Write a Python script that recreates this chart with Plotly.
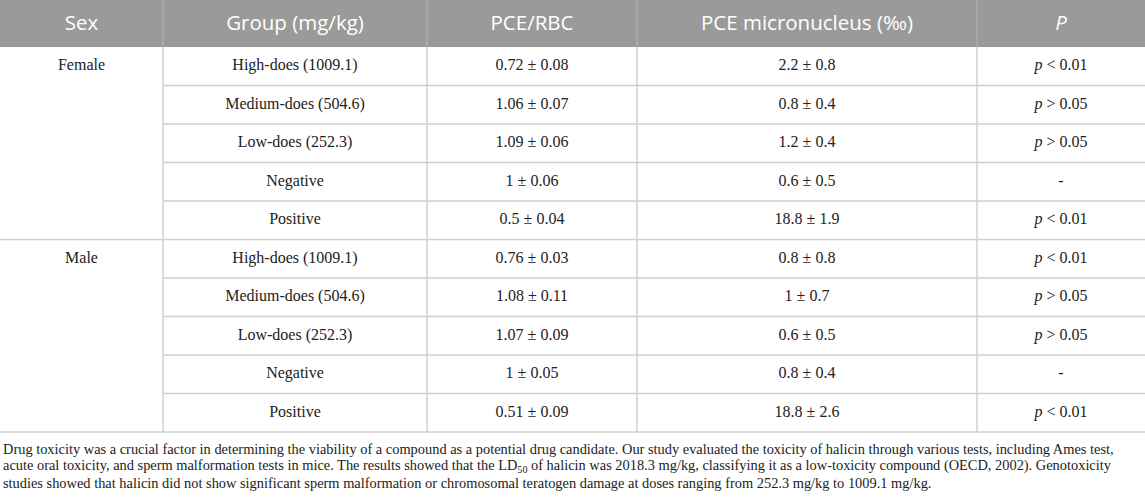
import plotly.graph_objects as go

# table content
sexes = ["Female", "Male"]
groups = ["High-does (1009.1)", "Medium-does (504.6)", "Low-does (252.3)", "Negative", "Positive"]
pce_rbc_mean = [0.72, 1.06, 1.09, 1, 0.5, 0.76, 1.08, 1.07, 1, 0.51]
pce_rbc_sd = [0.08, 0.07, 0.06, 0.06, 0.04, 0.03, 0.11, 0.09, 0.05, 0.09]
micronucleus_mean = [2.2, 0.8, 1.2, 0.6, 18.8, 0.8, 1, 0.6, 0.8, 18.8]
micronucleus_sd = [0.8, 0.4, 0.4, 0.5, 1.9, 0.8, 0.7, 0.5, 0.4, 2.6]
p_signs = ["<", ">", ">", None, "<", "<", ">", ">", None, "<"]
p_limits = [0.01, 0.05, 0.05, None, 0.01, 0.01, 0.05, 0.05, None, 0.01]
headers = ["Sex", "Group (mg/kg)", "PCE/RBC", "PCE micronucleus (‰)", "<i>P</i>"]
caption_lines = [
    "Drug toxicity was a crucial factor in determining the viability of a compound as a potential drug candidate. "
    "Our study evaluated the toxicity of halicin through various tests, including Ames test,",
    "acute oral toxicity, and sperm malformation tests in mice. The results showed that the LD<sub>50</sub> of halicin "
    "was 2018.3 mg/kg, classifying it as a low-toxicity compound (OECD, 2002). Genotoxicity",
    "studies showed that halicin did not show significant sperm malformation or chromosomal teratogen "
    "damage at doses ranging from 252.3 mg/kg to 1009.1 mg/kg.",
]

# layout (pixel units on hidden axes)
W, H = 1145, 498
col_edges = [0, 163, 427, 637, 977, 1145]
header_h = 47
row_h = 38.5
caption_y0 = 449
caption_dy = 17

HEADER_BG = "#9a9a9a"
GRID = "#d0d0d0"
TEXT = "#222222"
SERIF = "Liberation Serif"
SANS = "Open Sans"

n_rows = len(pce_rbc_mean)
per_sex = len(groups)
col_mid = [(a + b) / 2 for a, b in zip(col_edges[:-1], col_edges[1:])]
row_mid = [header_h + row_h * (i + 0.5) for i in range(n_rows)]
body_bottom = header_h + row_h * n_rows


def fmt(m, s):
    return f"{m:g} ± {s:g}"


def fmt_p(sign, lim):
    if sign is None:
        return "-"
    return f"<i>p</i> {sign} {lim:g}"


body_font = dict(family=SERIF, size=16, color=TEXT)

fig = go.Figure()

# sex labels sit on the first row of each block (merged cell look)
fig.add_trace(go.Scatter(
    x=[col_mid[0]] * len(sexes), y=[row_mid[k * per_sex] for k in range(len(sexes))],
    text=sexes, mode="text", textposition="middle center", textfont=body_font,
    hoverinfo="skip", showlegend=False,
))

columns = [
    [groups[i % per_sex] for i in range(n_rows)],
    [fmt(m, s) for m, s in zip(pce_rbc_mean, pce_rbc_sd)],
    [fmt(m, s) for m, s in zip(micronucleus_mean, micronucleus_sd)],
    [fmt_p(s, l) for s, l in zip(p_signs, p_limits)],
]
for x, texts in zip(col_mid[1:], columns):
    fig.add_trace(go.Scatter(
        x=[x] * n_rows, y=row_mid, text=texts, mode="text",
        textposition="middle center", textfont=body_font,
        hoverinfo="skip", showlegend=False,
    ))

# header row
fig.add_trace(go.Scatter(
    x=col_mid, y=[header_h / 2 + 1] * len(headers), text=headers, mode="text",
    textposition="middle center",
    textfont=dict(family=SANS, size=20.5, color="white"),
    hoverinfo="skip", showlegend=False,
))

shapes = [dict(type="rect", x0=0, x1=W, y0=0, y1=header_h, fillcolor=HEADER_BG,
               line=dict(width=0), layer="below")]

for x in col_edges[1:-1]:
    shapes.append(dict(type="line", x0=x, x1=x, y0=0, y1=header_h,
                       line=dict(color="#b5b5b5", width=1)))
    shapes.append(dict(type="line", x0=x, x1=x, y0=header_h, y1=body_bottom,
                       line=dict(color=GRID, width=1.5)))

for i in range(1, n_rows + 1):
    y = header_h + row_h * i
    x0 = 0 if i % per_sex == 0 else col_edges[1]
    shapes.append(dict(type="line", x0=x0, x1=W, y0=y, y1=y,
                       line=dict(color=GRID, width=1.5)))

annotations = [
    dict(x=1, y=caption_y0 + caption_dy * k, xref="x", yref="y", text=line,
         showarrow=False, xanchor="left", yanchor="middle", align="left",
         font=dict(family=SERIF, size=14.4, color=TEXT))
    for k, line in enumerate(caption_lines)
]

fig.update_layout(
    width=W, height=H,
    margin=dict(l=0, r=0, t=0, b=0),
    paper_bgcolor="white", plot_bgcolor="white",
    xaxis=dict(range=[0, W], visible=False, fixedrange=True),
    yaxis=dict(range=[H, 0], visible=False, fixedrange=True),
    shapes=shapes, annotations=annotations,
)

fig.write_html("out.html", config={"displayModeBar": False},
               post_script="document.body.style.margin='0';")
